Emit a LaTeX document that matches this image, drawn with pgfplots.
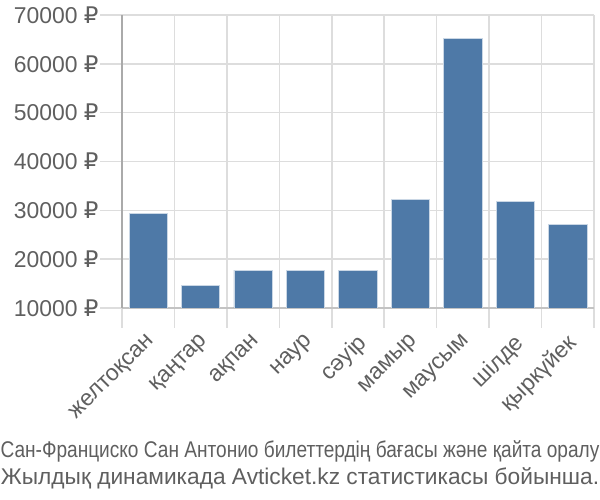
\documentclass[border=0pt]{standalone}
\usepackage{pgfplots}
\pgfplotsset{compat=1.18}
\usepackage{fontspec}
\setmainfont{Liberation Sans}
\newfontfamily\rub{DejaVu Sans}
\newcommand{\R}{{\rub ₽}}
\usepackage{graphicx}
\definecolor{barc}{RGB}{78,121,167}
\definecolor{txt}{RGB}{95,95,95}
\definecolor{grd}{RGB}{221,221,221}
\definecolor{axc}{RGB}{170,170,170}
\begin{document}
\begin{tikzpicture}
\useasboundingbox (0,0) rectangle (600bp,500bp);
\begin{axis}[
  at={(122bp,192bp)}, anchor=south west,
  scale only axis, width=472bp, height=293bp,
  xmin=-0.5, xmax=8.5, ymin=10000, ymax=70000,
  scaled y ticks=false,
  axis x line*=bottom, axis y line*=left,
  x axis line style={draw=axc!70, line width=1.5bp, -},
  y axis line style={draw=axc, line width=1.5bp, -},
  xtick={0,...,8},
  xticklabels={желтоқсан,қаңтар,ақпан,наур,сәуір,мамыр,маусым,шілде,қыркүйек},
  minor xtick={-0.5,0.5,...,8.5},
  major x tick style={draw=none},
  minor x tick style={draw=grd, line width=1.5bp},
  minor tick length=20bp,
  xminorgrids, ymajorgrids,
  minor grid style={draw=grd, line width=1.5bp},
  major grid style={draw=grd, line width=1.5bp},
  ytick={10000,20000,...,70000},
  yticklabels={10000 \R,20000 \R,30000 \R,40000 \R,50000 \R,60000 \R,70000 \R},
  major y tick style={draw=grd, line width=1.5bp},
  major tick length=22bp,
  tick align=outside,
  y tick label style={font=\fontsize{23}{23}\selectfont, text=txt, xshift=2bp},
  x tick label style={font=\fontsize{23}{23}\selectfont, text=txt, rotate=45, anchor=north east, inner sep=1bp, xshift=-2bp, yshift=1bp},
  ybar, bar width=0.73,
  /pgf/number format/assume math mode=true,
]
\addplot[fill=barc, draw=white!70!barc, line width=0.8bp] coordinates {
 (0,29450) (1,14700) (2,17750) (3,17750) (4,17750) (5,32300) (6,65200) (7,31900) (8,27200)};
\end{axis}
\node[text=txt, font=\fontsize{22.8}{22.8}\selectfont, anchor=base] at (300bp,42bp) {\scalebox{0.84}[1]{Сан-Франциско Сан Антонио билеттердің бағасы және қайта оралу}};
\node[text=txt, font=\fontsize{22.8}{22.8}\selectfont, anchor=base] at (300bp,16bp) {Жылдық динамикада Avticket.kz статистикасы бойынша.};
\end{tikzpicture}
\end{document}
